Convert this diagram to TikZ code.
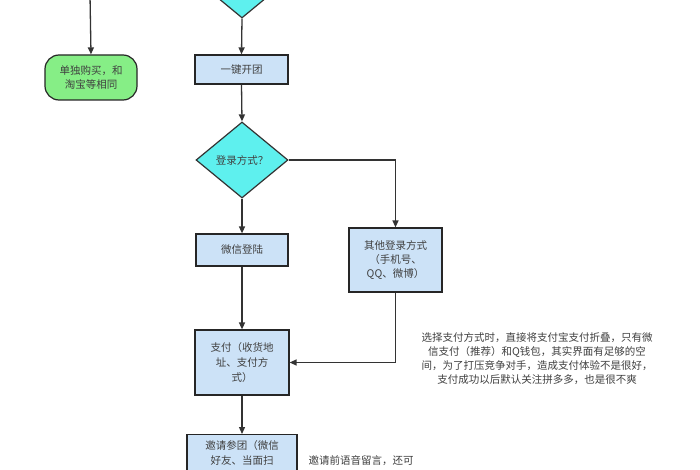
\documentclass[tikz,border=0pt]{standalone}
\usepackage{fontspec}
\setmainfont{Noto Sans CJK SC}
\usetikzlibrary{shapes.geometric,arrows.meta}
\definecolor{boxc}{HTML}{CCE2F7}
\definecolor{diac}{HTML}{5EF0EE}
\definecolor{grc}{HTML}{86EE86}
\begin{document}
\begin{tikzpicture}[x=1pt,y=-1pt,
  box/.style={draw=black!85,line width=1.2pt,fill=boxc,font=\fontsize{10.5}{12}\selectfont,align=center,inner sep=1pt,text=black!75},
  dia/.style={diamond,draw=black!80,line width=1.2pt,fill=diac,font=\fontsize{10.5}{12}\selectfont,aspect=1.2,inner sep=0pt,minimum width=92pt,minimum height=76pt,text=black!75},
  arr/.style={draw=black!80,line width=1.3pt,-{Triangle[length=7pt,width=6pt]}},
  note/.style={font=\fontsize{10.5}{14}\selectfont,align=center,text=black!75}]
\useasboundingbox (0,0) rectangle (700,470);
\clip (0,0) rectangle (700,470);
\fill[white] (0,0) rectangle (700,470);
\node[dia] (top) at (242,-20) {};
\coordinate (lt) at (90,-5);
\node[draw=black!85,line width=1.2pt,fill=grc,rounded corners=14pt,minimum width=92pt,minimum height=45pt,font=\fontsize{10.5}{14}\selectfont,align=center,text=black!75] (green) at (91,77.5) {单独购买，和\\淘宝等相同};
\node[box,minimum width=93pt,minimum height=29pt] (kt) at (241.5,69.5) {一键开团};
\node[dia] (login) at (242,160) {登录方式？};
\node[box,minimum width=92pt,minimum height=32pt] (wx) at (242,250) {微信登陆};
\node[box,minimum width=93pt,minimum height=64pt,font=\fontsize{10.5}{14}\selectfont] (other) at (395.5,260) {其他登录方式\\（手机号、\\QQ、微博）};
\node[box,minimum width=94pt,minimum height=65pt,font=\fontsize{10.5}{15}\selectfont] (pay) at (242,362.5) {支付（收货地\\址、支付方\\式）};
\node[box,minimum width=110pt,minimum height=60pt,anchor=north,font=\fontsize{10.5}{15}\selectfont,text depth=24pt] (inv) at (242,434) {邀请参团（微信\\好友、当面扫};
\node[note] (n1) at (537,359) {选择支付方式时，直接将支付宝支付折叠，只有微\\信支付（推荐）和Q钱包，其实界面有足够的空\\间，为了打压竞争对手，造成支付体验不是很好，\\支付成功以后默认关注拼多多，也是很不爽};
\node[note,anchor=west] (n2) at (305,461) {邀请前语音留言，还可};
\draw[arr] (lt) -- (green.north);
\draw[arr] (top.south) -- (kt.north);
\draw[arr] (kt.south) -- (login.north);
\draw[arr] (login.east) -| (other.north);
\draw[arr] (login.south) -- (wx.north);
\draw[arr] (wx.south) -- (pay.north);
\draw[arr] (other.south) |- (pay.east);
\draw[arr] (pay.south) -- (inv.north);
\end{tikzpicture}
\end{document}
